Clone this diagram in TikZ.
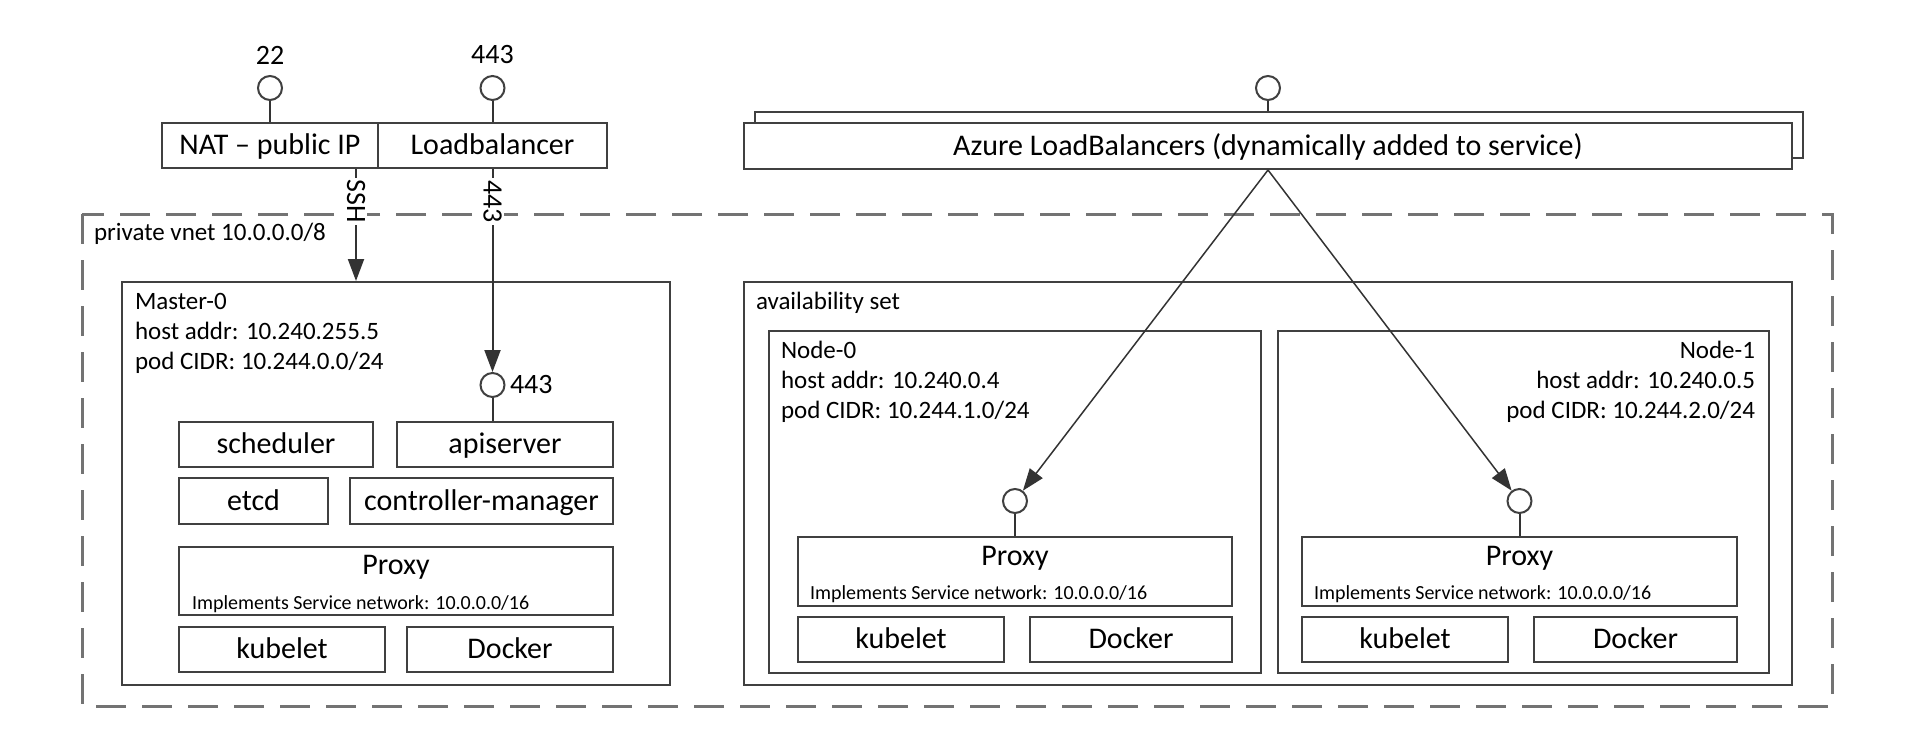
\documentclass[tikz,border=0pt]{standalone}
\usepackage{fontspec}
\setmainfont{Carlito}
\usetikzlibrary{arrows.meta}

\begin{document}
\begin{tikzpicture}[x=1pt, y=-1pt, line width=2pt,
    >={Triangle[length=22pt, width=16pt]},
    box/.style={draw=black!75, fill=white, inner sep=0pt, text height=20pt, text depth=2pt,
        font=\fontsize{30}{36}\selectfont},
    port/.style={draw=black!75, fill=white, circle, minimum size=24pt, inner sep=0pt},
    big/.style={inner sep=0pt, font=\fontsize{30}{36}\selectfont},
    info/.style={inner sep=0pt, font=\fontsize{25}{30}\selectfont},
    note/.style={inner sep=0pt, font=\fontsize{20}{24}\selectfont},
    tag/.style={inner sep=2pt, font=\fontsize{28}{34}\selectfont},
    link/.style={draw=black!80},
    vnet/.style={draw=black!55, line width=3pt, dash pattern=on 30pt off 16pt}]

    \useasboundingbox (0,0) rectangle (1912,750);

    % public entry points
    \node [box, minimum width=216pt, minimum height=45pt] (nat) at (270,145.5) {NAT – public IP};
    \node [box, minimum width=229pt, minimum height=45pt] (lb) at (492.5,145.5) {Loadbalancer};
    \node [port] (p22) at (270,88) {};
    \node [port] (p443) at (492.5,88) {};
    \node [tag] (t22) at (270,55) {22};
    \node [tag] (t443) at (492.5,55) {443};
    \draw [link] (p22) -- (nat);
    \draw [link] (p443) -- (lb);

    \node [box, minimum width=1048pt, minimum height=46pt] (azback) at (1279,135) {};
    \node [box, minimum width=1048pt, minimum height=46pt] (azure) at (1268,146)
        {Azure LoadBalancers (dynamically added to service)};
    \node [port] (paz) at (1268,88) {};
    \draw [link] (paz) -- (paz |- azback.north);

    % private vnet
    \draw [vnet] (82,214) rectangle (1832,706);
    \node [info, anchor=base west] (vnetlbl) at (93,240) {private vnet 10.0.0.0/8};

    % master
    \node [box, minimum width=548pt, minimum height=403pt] (master) at (396,483.5) {};
    \node [info, anchor=base west] (mname) at (134,309) {Master-0};
    \node [info, anchor=base west] (mhost) at (134,339) {host addr: 10.240.255.5};
    \node [info, anchor=base west] (mpod) at (134,369) {pod CIDR: 10.244.0.0/24};
    \node [port] (mport) at (492.5,385) {};
    \node [tag, anchor=west, inner sep=0pt] (mtag) at (509,385) {443};

    \node [box, minimum width=194pt, minimum height=45pt] (sched) at (276,444.5) {scheduler};
    \node [box, minimum width=216pt, minimum height=45pt] (api) at (505,444.5) {apiserver};
    \node [box, minimum width=149pt, minimum height=46pt] (etcd) at (253.5,501) {etcd};
    \node [box, minimum width=263pt, minimum height=46pt] (ctrl) at (481.5,501) {controller-manager};
    \node [box, minimum width=434pt, minimum height=68pt] (mproxy) at (396,581) {};
    \node [big, anchor=base] (mproxylbl) at (396,574) {Proxy};
    \node [note, anchor=base west] (mproxynote) at (191,609) {Implements Service network: 10.0.0.0/16};
    \node [box, minimum width=206pt, minimum height=45pt] (mkubelet) at (282,649.5) {kubelet};
    \node [box, minimum width=206pt, minimum height=45pt] (mdocker) at (510,649.5) {Docker};
    \draw [link] (mport) -- (mport |- api.north);

    % availability set
    \node [box, minimum width=1048pt, minimum height=403pt] (avset) at (1268,483.5) {};
    \node [info, anchor=base west] (avlbl) at (755,309) {availability set};

    \node [box, minimum width=492pt, minimum height=342pt] (vm0) at (1015,502) {};
    \node [info, anchor=base west] (vm0name) at (780,358) {Node-0};
    \node [info, anchor=base west] (vm0host) at (780,388) {host addr: 10.240.0.4};
    \node [info, anchor=base west] (vm0pod) at (780,418) {pod CIDR: 10.244.1.0/24};
    \node [port] (vm0port) at (1015,501) {};
    \node [box, minimum width=434pt, minimum height=69pt] (vm0proxy) at (1015,571.5) {};
    \node [big, anchor=base] (vm0proxylbl) at (1015,565) {Proxy};
    \node [note, anchor=base west] (vm0note) at (809,599) {Implements Service network: 10.0.0.0/16};
    \node [box, minimum width=206pt, minimum height=45pt] (vm0kubelet) at (901,639.5) {kubelet};
    \node [box, minimum width=202pt, minimum height=45pt] (vm0docker) at (1131,639.5) {Docker};
    \draw [link] (vm0port) -- (vm0proxy);

    \node [box, minimum width=491pt, minimum height=342pt] (vm1) at (1523.5,502) {};
    \node [info, anchor=base east] (vm1name) at (1756,358) {Node-1};
    \node [info, anchor=base east] (vm1host) at (1756,388) {host addr: 10.240.0.5};
    \node [info, anchor=base east] (vm1pod) at (1756,418) {pod CIDR: 10.244.2.0/24};
    \node [port] (vm1port) at (1519.5,501) {};
    \node [box, minimum width=435pt, minimum height=69pt] (vm1proxy) at (1519.5,571.5) {};
    \node [big, anchor=base] (vm1proxylbl) at (1519.5,565) {Proxy};
    \node [note, anchor=base west] (vm1note) at (1313,599) {Implements Service network: 10.0.0.0/16};
    \node [box, minimum width=206pt, minimum height=45pt] (vm1kubelet) at (1405,639.5) {kubelet};
    \node [box, minimum width=203pt, minimum height=45pt] (vm1docker) at (1635.5,639.5) {Docker};
    \draw [link] (vm1port) -- (vm1proxy);

    % traffic
    \coordinate (sshx) at (356,0);
    \draw [link, ->] (nat.south -| sshx) -- (master.north -| sshx)
        node [tag, pos=0.29, rotate=-90, fill=white] (tssh) {SSH};
    \draw [link, ->] (lb) -- (mport)
        node [tag, pos=0.16, rotate=-90, fill=white] (t443in) {443};
    \draw [link, line width=1.5pt, ->] (azure.south) -- (vm0port);
    \draw [link, line width=1.5pt, ->] (azure.south) -- (vm1port);
\end{tikzpicture}
\end{document}
